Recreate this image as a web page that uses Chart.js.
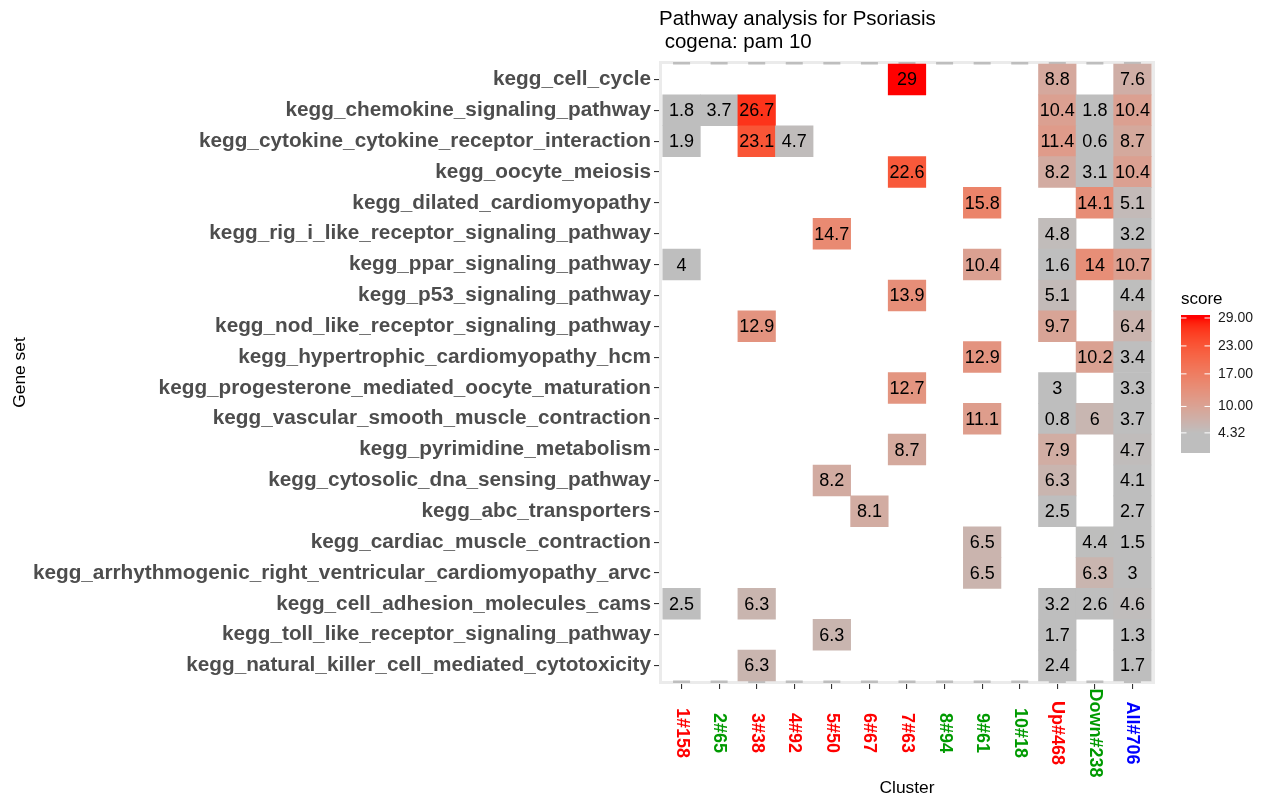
<!DOCTYPE html>
<html>
<head>
<meta charset="utf-8">
<script src="https://cdn.jsdelivr.net/npm/chart.js@4.4.1/dist/chart.umd.min.js"></script>
<style>
  html, body { margin: 0; padding: 0; background: #fff; }
  #wrap { width: 1265px; height: 803px; position: relative; }
</style>
</head>
<body>
<div id="wrap"><canvas id="heat"></canvas></div>
<script>
// clusters on the x axis, with the colour of their label
const clusters = ["1#158", "2#65", "3#38", "4#92", "5#50", "6#67", "7#63", "8#94", "9#61", "10#18", "Up#468", "Down#238", "All#706"];
const clusterColors = ["#FF0000", "#009A00", "#FF0000", "#FF0000", "#FF0000", "#FF0000", "#FF0000", "#009A00", "#009A00", "#009A00", "#FF0000", "#009A00", "#0000FF"];

// gene sets, top to bottom
const geneSets = [
  "kegg_cell_cycle",
  "kegg_chemokine_signaling_pathway",
  "kegg_cytokine_cytokine_receptor_interaction",
  "kegg_oocyte_meiosis",
  "kegg_dilated_cardiomyopathy",
  "kegg_rig_i_like_receptor_signaling_pathway",
  "kegg_ppar_signaling_pathway",
  "kegg_p53_signaling_pathway",
  "kegg_nod_like_receptor_signaling_pathway",
  "kegg_hypertrophic_cardiomyopathy_hcm",
  "kegg_progesterone_mediated_oocyte_maturation",
  "kegg_vascular_smooth_muscle_contraction",
  "kegg_pyrimidine_metabolism",
  "kegg_cytosolic_dna_sensing_pathway",
  "kegg_abc_transporters",
  "kegg_cardiac_muscle_contraction",
  "kegg_arrhythmogenic_right_ventricular_cardiomyopathy_arvc",
  "kegg_cell_adhesion_molecules_cams",
  "kegg_toll_like_receptor_signaling_pathway",
  "kegg_natural_killer_cell_mediated_cytotoxicity"
];

// score per gene set (row) and cluster (column), null = no tile
const _ = null;
const scores = [
  [_,   _,   _,    _,   _,    _,   29,   _, _,    _, 8.8,  _,    7.6],
  [1.8, 3.7, 26.7, _,   _,    _,   _,    _, _,    _, 10.4, 1.8,  10.4],
  [1.9, _,   23.1, 4.7, _,    _,   _,    _, _,    _, 11.4, 0.6,  8.7],
  [_,   _,   _,    _,   _,    _,   22.6, _, _,    _, 8.2,  3.1,  10.4],
  [_,   _,   _,    _,   _,    _,   _,    _, 15.8, _, _,    14.1, 5.1],
  [_,   _,   _,    _,   14.7, _,   _,    _, _,    _, 4.8,  _,    3.2],
  [4,   _,   _,    _,   _,    _,   _,    _, 10.4, _, 1.6,  14,   10.7],
  [_,   _,   _,    _,   _,    _,   13.9, _, _,    _, 5.1,  _,    4.4],
  [_,   _,   12.9, _,   _,    _,   _,    _, _,    _, 9.7,  _,    6.4],
  [_,   _,   _,    _,   _,    _,   _,    _, 12.9, _, _,    10.2, 3.4],
  [_,   _,   _,    _,   _,    _,   12.7, _, _,    _, 3,    _,    3.3],
  [_,   _,   _,    _,   _,    _,   _,    _, 11.1, _, 0.8,  6,    3.7],
  [_,   _,   _,    _,   _,    _,   8.7,  _, _,    _, 7.9,  _,    4.7],
  [_,   _,   _,    _,   8.2,  _,   _,    _, _,    _, 6.3,  _,    4.1],
  [_,   _,   _,    _,   _,    8.1, _,    _, _,    _, 2.5,  _,    2.7],
  [_,   _,   _,    _,   _,    _,   _,    _, 6.5,  _, _,    4.4,  1.5],
  [_,   _,   _,    _,   _,    _,   _,    _, 6.5,  _, _,    6.3,  3],
  [2.5, _,   6.3,  _,   _,    _,   _,    _, _,    _, 3.2,  2.6,  4.6],
  [_,   _,   _,    _,   6.3,  _,   _,    _, _,    _, 1.7,  _,    1.3],
  [_,   _,   6.3,  _,   _,    _,   _,    _, _,    _, 2.4,  _,    1.7]
];

// colour bar
const legendTicks = [4.32, 10, 17, 23, 29];
const scoreMax = 29;
const greyUntil = 4.32;

const FONT = '"Liberation Sans", Arial, Helvetica, sans-serif';
Chart.defaults.font.family = FONT;

// grey -> red, interpolated in CIELAB like ggplot does
function toLab(rgb) {
  const [r, g, b] = rgb.map((c) => {
    c /= 255;
    return c <= 0.04045 ? c / 12.92 : Math.pow((c + 0.055) / 1.055, 2.4);
  });
  const x = (0.4124 * r + 0.3576 * g + 0.1805 * b) / 0.95047;
  const y = 0.2126 * r + 0.7152 * g + 0.0722 * b;
  const z = (0.0193 * r + 0.1192 * g + 0.9505 * b) / 1.08883;
  const f = (t) => (t > 0.008856 ? Math.cbrt(t) : 7.787 * t + 16 / 116);
  return [116 * f(y) - 16, 500 * (f(x) - f(y)), 200 * (f(y) - f(z))];
}
function fromLab([L, a, bb]) {
  const fy = (L + 16) / 116;
  const fx = fy + a / 500;
  const fz = fy - bb / 200;
  const fi = (t) => (t * t * t > 0.008856 ? t * t * t : (t - 16 / 116) / 7.787);
  const x = fi(fx) * 0.95047, y = fi(fy), z = fi(fz) * 1.08883;
  const lin = [
    3.2406 * x - 1.5372 * y - 0.4986 * z,
    -0.9689 * x + 1.8758 * y + 0.0415 * z,
    0.0557 * x - 0.204 * y + 1.057 * z,
  ];
  return lin.map((c) => {
    c = c <= 0.0031308 ? 12.92 * c : 1.055 * Math.pow(c, 1 / 2.4) - 0.055;
    return Math.round(Math.max(0, Math.min(1, c)) * 255);
  });
}
const greyLab = toLab([190, 190, 190]);
const redLab = toLab([255, 0, 0]);
function scoreColor(v) {
  const t = Math.max(0, Math.min(1, (v - greyUntil) / (scoreMax - greyUntil)));
  const [r, g, b] = fromLab(greyLab.map((gv, k) => gv + (redLab[k] - gv) * t));
  return `rgb(${r},${g},${b})`;
}

// one floating bar per tile
const cells = [];
scores.forEach((row, r) => {
  row.forEach((v, c) => {
    if (v !== null) cells.push({ x: c, y: [r - 0.5, r + 0.5], v: v });
  });
});

// panel border + the small grey marks on its top and bottom edge
const panelFrame = {
  id: "panelFrame",
  beforeDatasetsDraw(chart) {
    const { ctx, chartArea: a } = chart;
    const xs = chart.scales.x;
    ctx.save();
    ctx.strokeStyle = "#EBEBEB";
    ctx.lineWidth = 3;
    ctx.strokeRect(a.left + 1.5, a.top + 1.5, a.right - a.left - 3, a.bottom - a.top - 3);
    ctx.fillStyle = "#BEBEBE";
    xs.ticks.forEach((t) => {
      const px = xs.getPixelForValue(t.value);
      ctx.fillRect(px - 8.5, a.top + 1, 17, 2.5);
      ctx.fillRect(px - 8.5, a.bottom - 3.5, 17, 2.5);
    });
    ctx.restore();
  },
};

// numbers inside the tiles
const tileLabels = {
  id: "tileLabels",
  afterDatasetsDraw(chart) {
    const { ctx } = chart;
    const meta = chart.getDatasetMeta(0);
    ctx.save();
    ctx.font = "18px " + FONT;
    ctx.fillStyle = "#000";
    ctx.textAlign = "center";
    ctx.textBaseline = "middle";
    meta.data.forEach((bar, i) => {
      const p = bar.getProps(["x", "y", "base"], true);
      ctx.fillText(String(cells[i].v), p.x, (p.y + p.base) / 2 + 1);
    });
    ctx.restore();
  },
};

// rotated, coloured cluster names + title + colour bar
const extras = {
  id: "extras",
  afterDraw(chart) {
    const { ctx, chartArea: a } = chart;
    const xs = chart.scales.x;
    ctx.save();

    ctx.font = "bold 18px " + FONT;
    ctx.textAlign = "center";
    ctx.textBaseline = "middle";
    xs.ticks.forEach((t) => {
      const px = xs.getPixelForValue(t.value);
      ctx.save();
      ctx.translate(px, 733);
      ctx.rotate(Math.PI / 2);
      ctx.fillStyle = clusterColors[t.value];
      ctx.fillText(clusters[t.value], 0, 0);
      ctx.restore();
    });

    // title
    ctx.font = "20.5px " + FONT;
    ctx.fillStyle = "#000";
    ctx.textAlign = "left";
    ctx.textBaseline = "alphabetic";
    ctx.fillText("Pathway analysis for Psoriasis", a.left, 24.5);
    ctx.fillText(" cogena: pam 10", a.left, 47.5);

    // colour bar
    const lx = 1181, lw = 29, top = 315, zeroY = 453;
    const pxPerUnit = (zeroY - 318) / scoreMax;
    for (let y = top; y < zeroY; y++) {
      const v = Math.min(scoreMax, (zeroY - y - 0.5) / pxPerUnit);
      ctx.fillStyle = scoreColor(v);
      ctx.fillRect(lx, y, lw, 1);
    }
    ctx.fillStyle = "#000";
    ctx.font = "17px " + FONT;
    ctx.fillText("score", lx, 304);
    ctx.font = "14px " + FONT;
    ctx.textBaseline = "middle";
    ctx.strokeStyle = "#FFFFFF";
    ctx.lineWidth = 1;
    legendTicks.forEach((v) => {
      const y = zeroY - v * pxPerUnit;
      ctx.beginPath();
      ctx.moveTo(lx, y); ctx.lineTo(lx + 5.5, y);
      ctx.moveTo(lx + lw - 5.5, y); ctx.lineTo(lx + lw, y);
      ctx.stroke();
      ctx.fillStyle = "#1A1A1A";
      ctx.fillText(v.toFixed(2), 1218, y);
    });
    ctx.restore();
  },
};

new Chart(document.getElementById("heat"), {
  type: "bar",
  data: {
    datasets: [
      {
        data: cells,
        backgroundColor: (c) => scoreColor(c.raw ? c.raw.v : 0),
        borderWidth: 0,
        grouped: false,
        categoryPercentage: 1,
        barPercentage: 1,
      },
    ],
  },
  options: {
    responsive: true,
    maintainAspectRatio: false,
    animation: false,
    events: [],
    layout: { padding: { top: 61, right: 110, left: 0, bottom: 0 } },
    plugins: { legend: { display: false }, tooltip: { enabled: false } },
    scales: {
      x: {
        type: "linear",
        offset: false,
        min: -0.6,
        max: clusters.length - 0.4,
        afterBuildTicks: (ax) => {
          ax.ticks = clusters.map((c, i) => ({ value: i }));
        },
        afterFit: (ax) => {
          ax.height = 119;
        },
        ticks: { display: false },
        grid: { offset: false, drawOnChartArea: false, drawTicks: true, tickLength: 5, color: "#333333", lineWidth: 1.1 },
        border: { display: false },
        title: { display: true, text: "Cluster", color: "#000", font: { size: 17.4 }, padding: { top: 0, bottom: 4.6 } },
      },
      y: {
        type: "linear",
        reverse: true,
        min: -0.6,
        max: geneSets.length - 0.4,
        afterBuildTicks: (ax) => {
          ax.ticks = geneSets.map((g, i) => ({ value: i }));
        },
        afterFit: (ax) => {
          ax.width = 659;
        },
        ticks: {
          autoSkip: false,
          padding: 3,
          color: "#4D4D4D",
          font: { size: 20.75, weight: "bold" },
          callback: (v) => geneSets[v],
        },
        grid: { drawOnChartArea: false, drawTicks: true, tickLength: 5, color: "#333333", lineWidth: 1.1 },
        border: { display: false },
        title: { display: true, text: "Gene set", color: "#000", font: { size: 17.4 }, padding: { top: 9.5, bottom: 0 } },
      },
    },
  },
  plugins: [panelFrame, tileLabels, extras],
});
</script>
</body>
</html>
